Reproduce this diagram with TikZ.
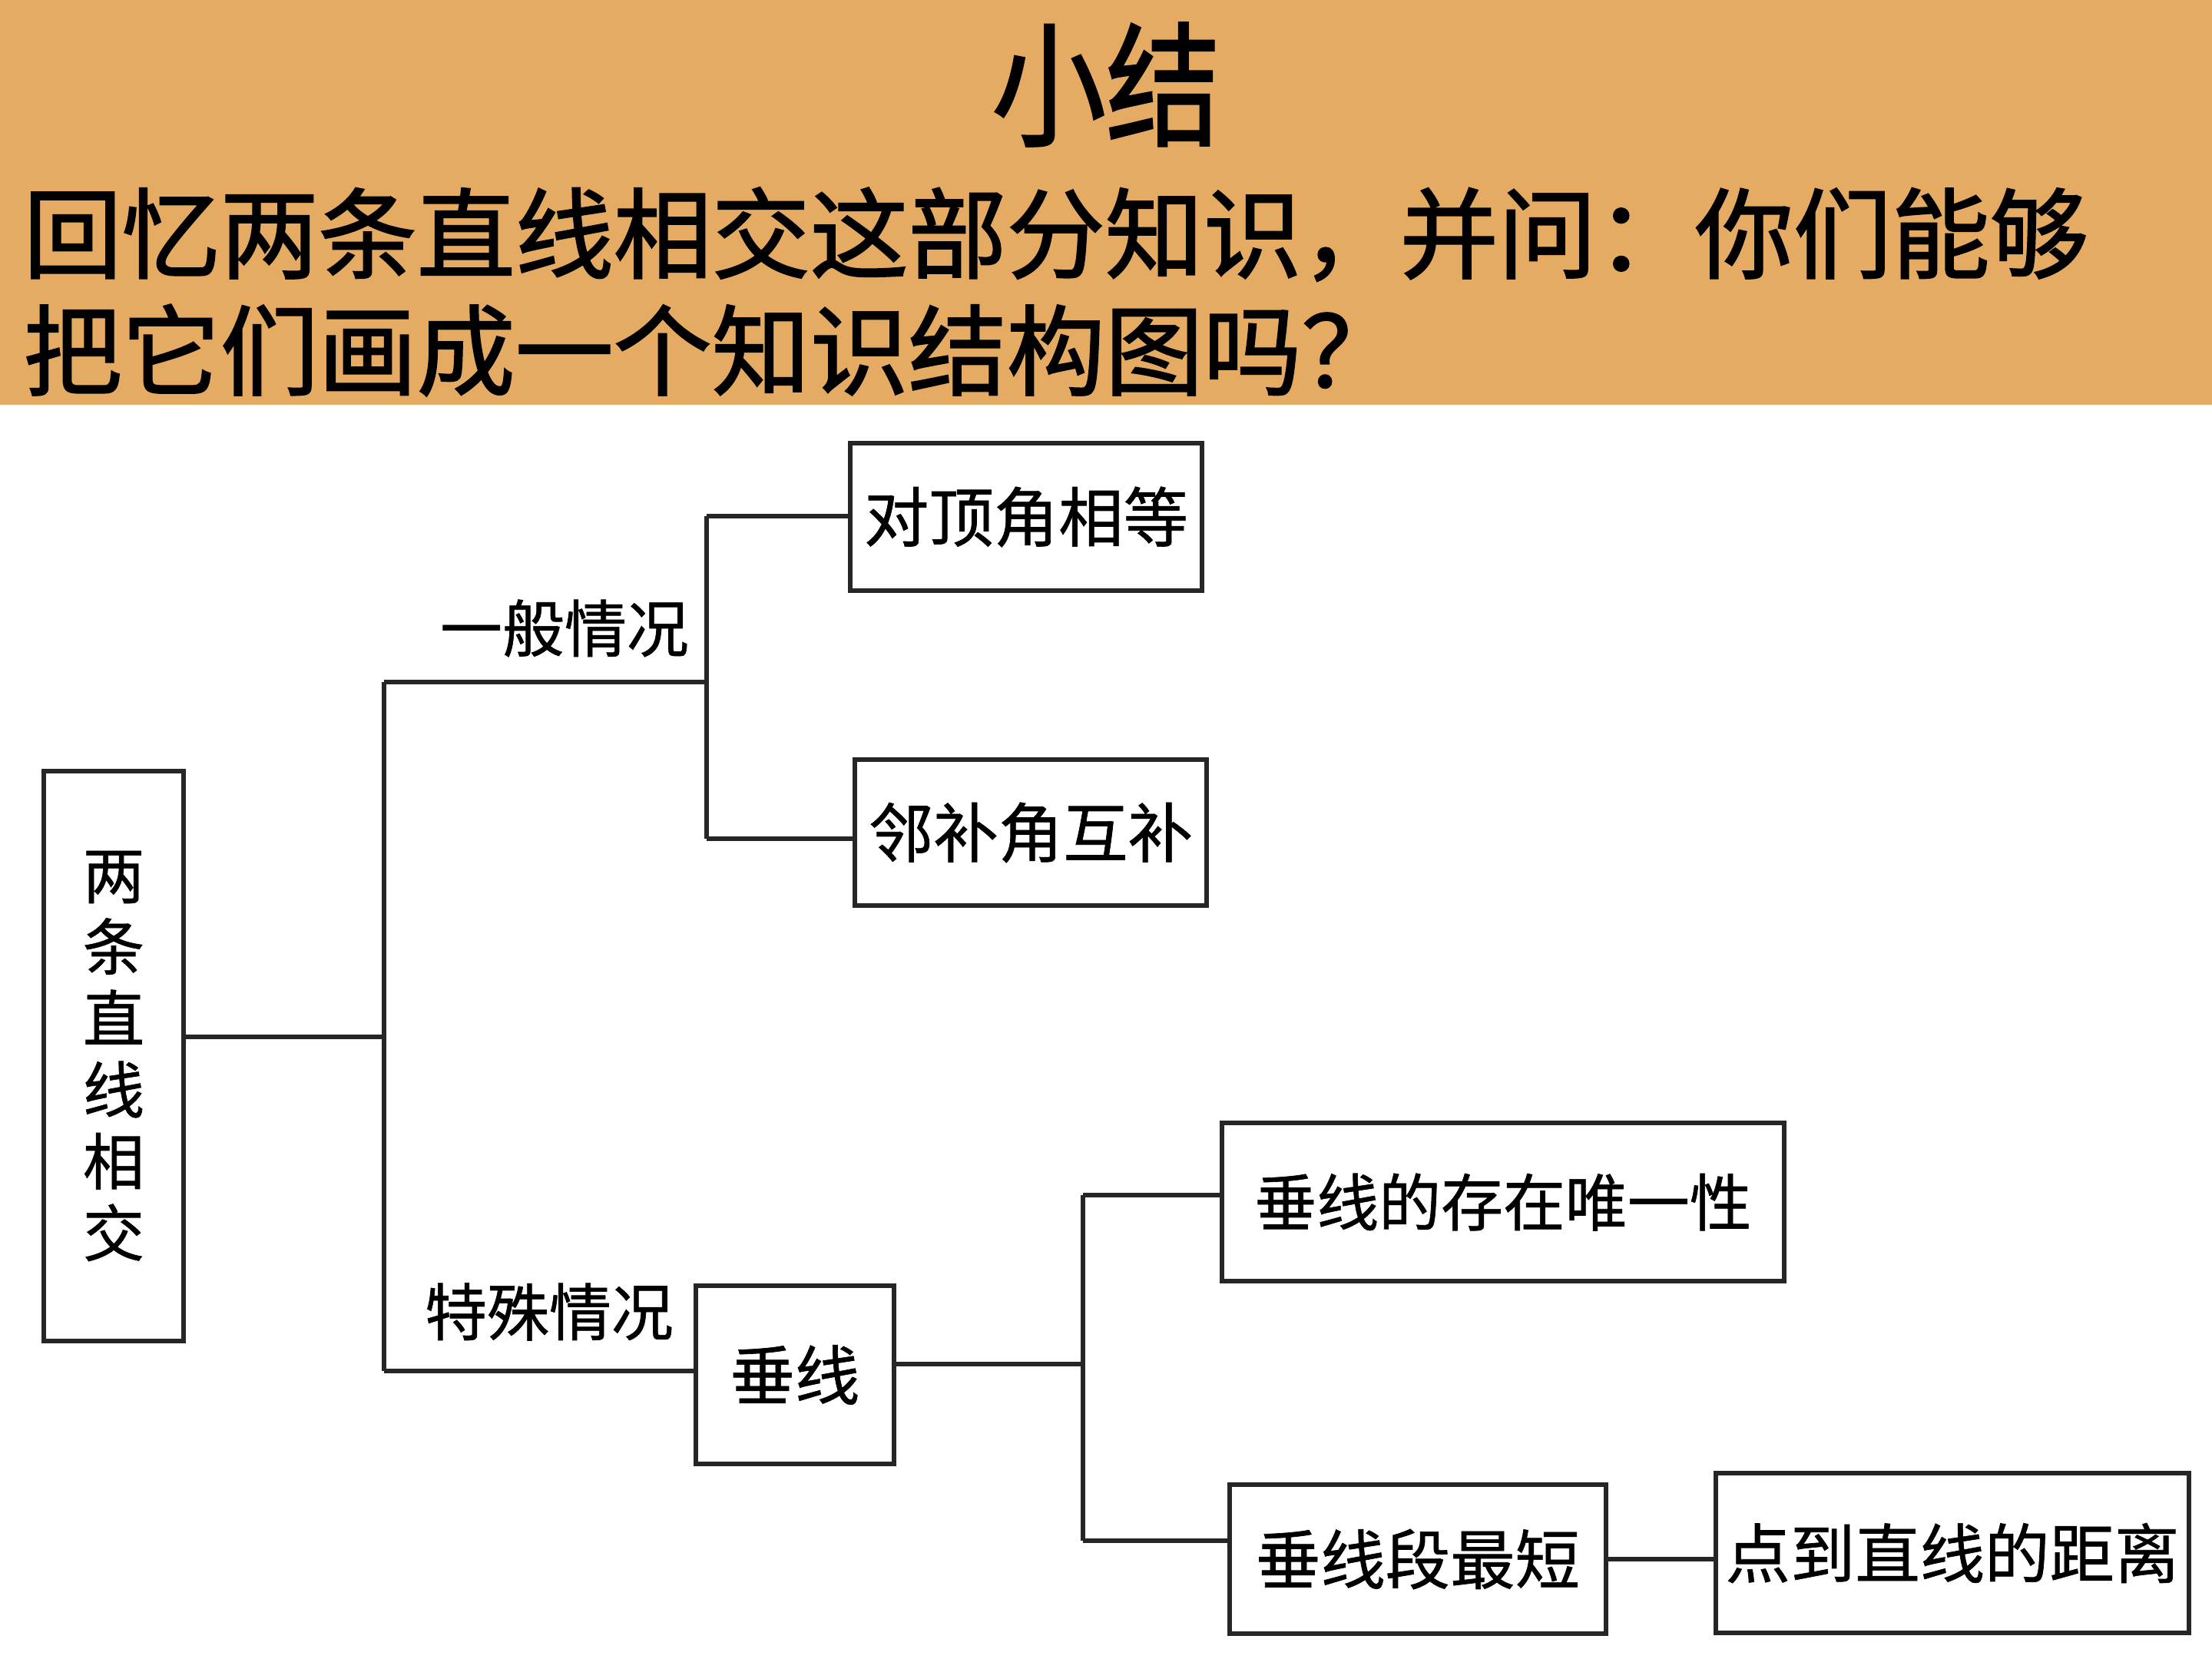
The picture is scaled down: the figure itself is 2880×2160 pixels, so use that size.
\documentclass[tikz,border=0pt]{standalone}
\usepackage{fontspec}
\setmainfont{Noto Sans CJK SC}
\newfontfamily\headfont[FakeBold=1.6]{Noto Sans CJK SC}
\newfontfamily\diagfont[FakeBold=0.8]{Noto Sans CJK SC}
\definecolor{banner}{RGB}{229,171,99}
\tikzset{
  box/.style={draw=black!85, line width=1.7pt, fill=white, inner sep=0pt, font=\diagfont\fontsize{24}{26}\selectfont},
  conn/.style={draw=black!85, line width=1.7pt},
  lbl/.style={inner sep=0pt, font=\diagfont\fontsize{23}{26}\selectfont},
  head/.style={inner sep=0pt, anchor=west, font=\headfont\fontsize{36.4}{40}\selectfont}
}
\begin{document}
\begin{tikzpicture}[x=0.01cm, y=-0.01cm]
\useasboundingbox (0,0) rectangle (2880,2160);
\fill[white] (0,0) rectangle (2880,2160);
\fill[banner] (0,0) rectangle (2880,527);
\node[inner sep=0pt, font=\headfont\fontsize{46}{50}\selectfont] (title) at (1440,110) {\scalebox{0.92}[1.08]{小结}};
\node[head] (q1) at (30,305) {回忆两条直线相交这部分知识，并问：你们能够};
\node[head] (q2) at (30,456) {把它们画成一个知识结构图吗？};

% boxes
\node[box, minimum width=1.82cm, minimum height=7.42cm, align=center,
      font=\diagfont\fontsize{22.8}{26.5}\selectfont] (root) at (148,1375)
      {两\\条\\直\\线\\相\\交};
\node[box, minimum width=4.57cm, minimum height=1.92cm] (dd) at (1336,673) {对顶角相等};
\node[box, minimum width=4.57cm, minimum height=1.89cm] (lb) at (1342,1084) {邻补角互补};
\node[box, minimum width=2.57cm, minimum height=2.32cm] (cx) at (1035,1790) {垂线};
\node[box, minimum width=7.32cm, minimum height=2.05cm, font=\diagfont\fontsize{23}{26}\selectfont] (wy) at (1957,1565) {垂线的存在唯一性};
\node[box, minimum width=4.90cm, minimum height=1.94cm] (zd) at (1846,2030) {垂线段最短};
\node[box, minimum width=6.16cm, minimum height=2.07cm] (jl) at (2542,2022) {点到直线的距离};

% labels
\node[lbl] (ybqk) at (735,818) {一般情况};
\node[lbl] (tsqk) at (715,1708) {特殊情况};

% junction coordinates
\coordinate (j1) at (500,1350);
\coordinate (g1) at (500,888);
\coordinate (s1) at (500,1785);
\coordinate (g2) at (920,888);
\coordinate (gt) at (920,672);
\coordinate (gb) at (920,1092);
\coordinate (c2) at (1410,1776);
\coordinate (ct) at (1410,1556);
\coordinate (cb) at (1410,2006);

% connectors
\draw[conn] (root.east |- j1) -- (j1);
\draw[conn] (g1) -- (s1);
\draw[conn] (g1) -- (g2);
\draw[conn] (gt) -- (gb);
\draw[conn] (gt) -- (dd.west |- gt);
\draw[conn] (gb) -- (lb.west |- gb);
\draw[conn] (s1) -- (cx.west |- s1);
\draw[conn] (cx.east |- c2) -- (c2);
\draw[conn] (ct) -- (cb);
\draw[conn] (ct) -- (wy.west |- ct);
\draw[conn] (cb) -- (zd.west |- cb);
\draw[conn] (zd.east) -- (zd.east -| jl.west);
\end{tikzpicture}
\end{document}
